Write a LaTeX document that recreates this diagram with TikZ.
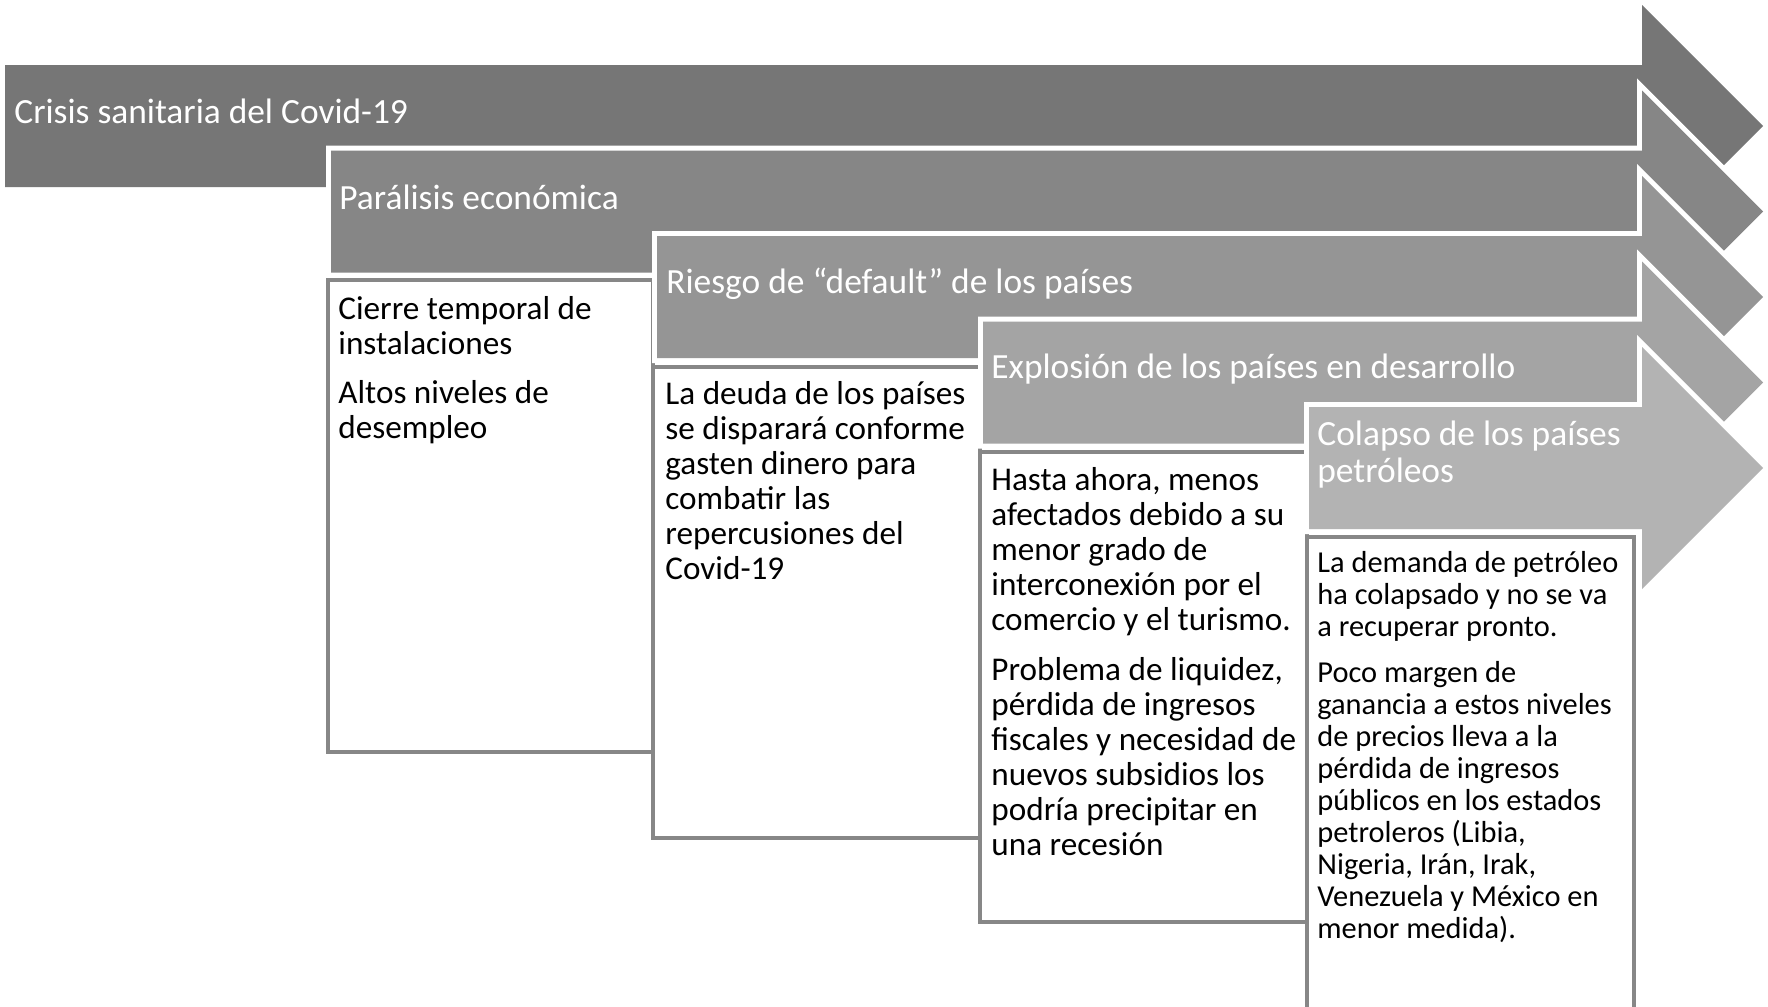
\documentclass[tikz,border=0pt]{standalone}
\usepackage{fontspec}
\setmainfont{Carlito}
\definecolor{grisA}{HTML}{767676}
\definecolor{grisB}{HTML}{868686}
\definecolor{grisC}{HTML}{959595}
\definecolor{grisD}{HTML}{A4A4A4}
\definecolor{grisE}{HTML}{B3B3B3}
\definecolor{marco}{HTML}{878787}
\begin{document}
\begin{tikzpicture}[x=0.5pt,y=-0.5pt,
		flecha/.style={preaction={draw=white, line width=5pt, line join=miter}},
		caja/.style={draw=marco, fill=white, line width=2pt},
		txtflecha/.style={anchor=west, inner sep=0pt, align=left, text=white, font=\fontsize{17.7}{18.5}\selectfont},
		txtcaja/.style={anchor=north west, inner sep=0pt, align=left, font=\fontsize{16.6}{17.5}\selectfont}]
			\clip (0,0) rectangle (1768,1007);
			% cajas
			\draw[caja] (328,280) rectangle (653,752);
			\draw[caja] (653,367) rectangle (980,838);
			\draw[caja] (980,452) rectangle (1307,922);
			\draw[caja] (1307,537) rectangle (1634,1020);
			% flechas
			\foreach \i/\c in {0/grisA,1/grisB,2/grisC,3/grisD,4/grisE}
				\fill[flecha, fill=\c] ({5+326*\i},{65+85.5*\i}) -- (1642,{65+85.5*\i}) -- (1642,{5+85.5*\i}) -- (1763,{126+85.5*\i}) -- (1642,{247+85.5*\i}) -- (1642,{187+85.5*\i}) -- ({5+326*\i},{187+85.5*\i}) -- cycle;
			% textos
			\node[txtflecha] (crisis) at (14,111.5) {Crisis sanitaria del Covid-19};
			\node[txtflecha] (paralisis) at (339,197.5) {Parálisis económica};
			\node[txtflecha] (riesgo) at (666,283.5) {Riesgo de “default” de los países};
			\node[txtflecha] (explosion) at (991,369.5) {Explosión de los países en desarrollo};
			\node[txtflecha] (colapso) at (1317,454.5) {Colapso de los países\\petróleos};
			\node[txtcaja] (cierre) at (338,296) {Cierre temporal de\\instalaciones\\[7pt]Altos niveles de\\desempleo};
			\node[txtcaja] (deuda) at (665,381.5) {La deuda de los países\\se disparará conforme\\gasten dinero para\\combatir las\\repercusiones del\\Covid-19};
			\node[txtcaja] (hasta) at (991,467.5) {Hasta ahora, menos\\afectados debido a su\\menor grado de\\interconexión por el\\comercio y el turismo.\\[7.5pt]Problema de liquidez,\\pérdida de ingresos\\fiscales y necesidad de\\nuevos subsidios los\\podría precipitar en\\una recesión};
			\node[txtcaja, font=\fontsize{15.2}{16}\selectfont] (demanda) at (1317,550.5) {La demanda de petróleo\\ha colapsado y no se va\\a recuperar pronto.\\[7pt]Poco margen de\\ganancia a estos niveles\\de precios lleva a la\\pérdida de ingresos\\públicos en los estados\\petroleros (Libia,\\Nigeria, Irán, Irak,\\Venezuela y México en\\menor medida).};
		\end{tikzpicture}
\end{document}
